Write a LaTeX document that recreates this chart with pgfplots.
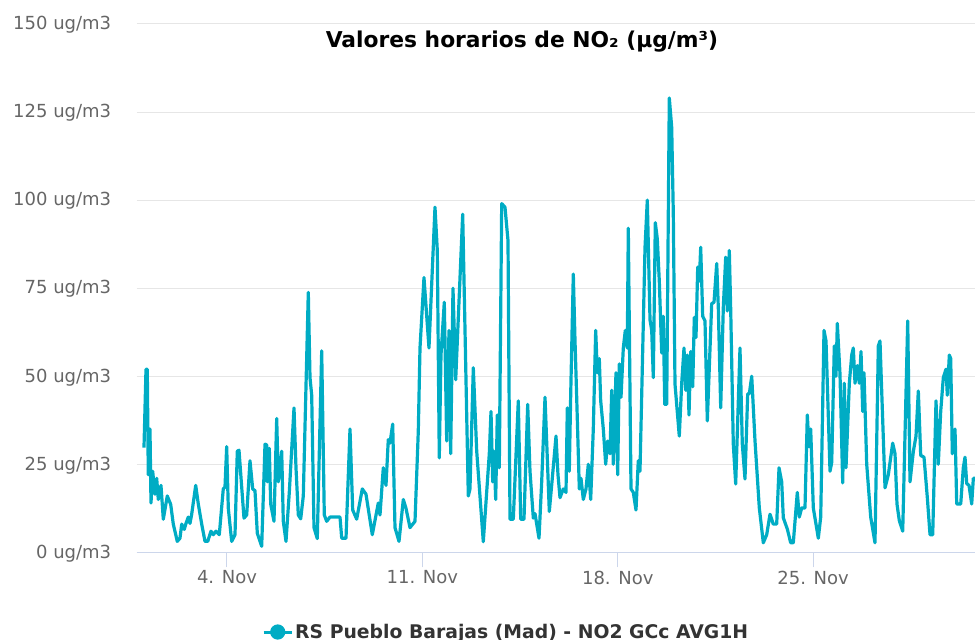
\documentclass[border=0pt]{standalone}
\usepackage{pgfplots}
\pgfplotsset{compat=1.18}
\usepackage{fontspec}
\setmainfont{DejaVu Sans}
\definecolor{lineteal}{RGB}{0,172,196}
\definecolor{gridgray}{RGB}{230,230,230}
\definecolor{axisblue}{RGB}{204,214,235}
\definecolor{labelgray}{RGB}{102,102,102}
\definecolor{legendgray}{RGB}{51,51,51}
\begin{document}
\begin{tikzpicture}
\path[use as bounding box, clip] (0pt,0pt) rectangle (975pt,640pt);
\begin{axis}[
  at={(136.7pt,87.7pt)}, anchor=south west,
  scale only axis, width=838.3pt, height=528.3pt,
  xmin=0.765, xmax=30.80, ymin=0, ymax=150,
  axis line style={draw=none},
  axis x line*=bottom, axis y line*=left,
  xtick={4,11,18,25},
  xticklabels={4. Nov,11. Nov,18. Nov,25. Nov},
  ytick={0,25,50,75,100,125,150},
  yticklabels={0 ug/m3,25 ug/m3,50 ug/m3,75 ug/m3,100 ug/m3,125 ug/m3,150 ug/m3},
  ymajorgrids, grid style={gridgray, line width=1pt},
  tick align=outside, major tick length=15pt,
  xtick style={axisblue, line width=1pt},
  ytick style={draw=none},
  ticklabel style={font=\fontsize{18}{20}\selectfont, text=labelgray},
  yticklabel style={anchor=east, xshift=-7pt, yshift=-1pt},
  xticklabel style={anchor=north, yshift=0pt},
  title={Valores horarios de NO₂ (µg/m³)},
  title style={at={(axis description cs:0.4596,0.9546)}, anchor=center, font=\fontsize{21.8}{24}\selectfont\bfseries, text=black},
  legend style={at={(axis description cs:0.1495,-0.1509)}, anchor=west, draw=none, fill=none, font=\fontsize{18.8}{20}\selectfont\bfseries, text=legendgray, inner sep=0pt},
  legend cell align=left,
  legend image code/.code={\draw[line width=3pt, lineteal] (-3pt,0pt) -- (25pt,0pt); \fill[lineteal] (11pt,0pt) circle (6pt);},
]
\draw[axisblue, line width=1pt] (axis cs:0.765,0) -- (axis cs:30.80,0);
\addplot[lineteal, line width=3.2pt, line join=round, no markers] table {
x y
1.026 29.7
1.098 52
1.144 52
1.180 22
1.241 35
1.277 14
1.338 23
1.420 16.5
1.481 21
1.539 15
1.635 19
1.718 9.4
1.861 16
1.983 13.6
2.076 8
2.219 3.1
2.316 4
2.377 8
2.470 6.5
2.531 8.2
2.613 10
2.674 8.2
2.735 10.8
2.879 19
2.972 13.7
3.094 8
3.212 3.1
3.309 3.1
3.427 6
3.509 5
3.606 6
3.724 5
3.867 18
3.928 18.5
3.989 30
4.047 12.5
4.168 3.1
4.287 5
4.369 28.7
4.430 29
4.527 18.5
4.609 9.7
4.706 10.6
4.824 26
4.921 18
5.003 17.5
5.086 5.4
5.243 1.7
5.362 30.7
5.422 30.5
5.444 20
5.516 29.5
5.566 13.7
5.684 8.8
5.781 38
5.838 20
5.960 28.7
6.017 8.8
6.114 3.1
6.232 17
6.401 41
6.472 24
6.555 10.6
6.641 9.5
6.734 16
6.913 73.8
6.974 49.6
7.035 44.6
7.117 7
7.235 3.9
7.393 57.2
7.486 10.6
7.572 8.8
7.690 10
8.049 10
8.110 4
8.264 4
8.407 35
8.504 12
8.647 9.4
8.848 18
8.980 16.5
9.206 5
9.421 14
9.482 10.6
9.600 24
9.697 19
9.779 32
9.840 31
9.937 36.4
10.019 7
10.163 3.1
10.317 15
10.413 12.5
10.557 7
10.736 8.8
10.854 34.4
10.915 58
11.058 78
11.237 58
11.452 98
11.535 85.7
11.606 26.8
11.667 56
11.786 71
11.872 31.6
11.954 63
12.015 28
12.097 75
12.194 49
12.445 96
12.646 16
12.706 18
12.825 52.4
12.947 28.7
13.183 3
13.398 28
13.459 40
13.520 20
13.566 28.7
13.627 15
13.685 39
13.756 24
13.842 99
13.960 98
14.068 88.5
14.140 9.4
14.258 9.4
14.437 43
14.523 9.4
14.641 9.4
14.774 42
14.856 23
14.975 9.7
15.035 11
15.179 4
15.275 20
15.394 44
15.548 11.6
15.644 20
15.788 33
15.859 22
15.931 15.5
16.049 18
16.146 17
16.193 41
16.264 23
16.315 45
16.408 79
16.469 60
16.529 44
16.623 18
16.683 21
16.766 15
16.863 18
16.945 25
17.031 15
17.124 35
17.210 63
17.268 51
17.339 55
17.389 43
17.483 35
17.568 25
17.640 31.6
17.722 28
17.784 46
17.841 25
17.937 51
17.998 22
18.056 53.5
18.117 44
18.199 58
18.271 63
18.342 58
18.378 92
18.475 18
18.557 17
18.654 12
18.736 26
18.797 23
18.977 86.6
19.059 100
19.156 66
19.217 63
19.274 49.6
19.346 93.6
19.417 89
19.489 77
19.575 56.6
19.632 67
19.683 42
19.754 42
19.847 129
19.933 120.7
19.991 96
20.051 47.8
20.205 33
20.292 48
20.374 58
20.435 46
20.492 56
20.553 39
20.614 57
20.686 47
20.743 66.7
20.804 61
20.865 81
20.922 77
20.972 86.6
21.044 67
21.126 65.7
21.209 37.3
21.366 70.6
21.449 71
21.546 82
21.603 69.5
21.689 41
21.782 69.5
21.868 83.8
21.925 68.5
21.997 85.7
22.047 69
22.140 30.7
22.226 19.4
22.380 58
22.463 30.7
22.559 20.8
22.656 45
22.714 45
22.800 50
22.918 31.6
23.072 12.6
23.215 2.7
23.337 5
23.455 10.8
23.573 8
23.695 8
23.778 24
23.874 20
23.932 9.8
24.075 6.6
24.197 2.7
24.290 2.7
24.433 17
24.505 10
24.591 12.6
24.709 12.6
24.792 39
24.852 30
24.913 35
25.007 12.6
25.186 4
25.272 10
25.390 63
25.462 60
25.605 23
25.666 25.5
25.759 58.6
25.820 50
25.867 65
25.963 50.6
26.060 19.7
26.118 48
26.178 24
26.297 48
26.383 56
26.440 58
26.501 48
26.583 53
26.655 48
26.716 57
26.777 40
26.823 51
26.920 25
27.063 10
27.217 2.7
27.336 58.6
27.396 60
27.576 18.3
27.694 22
27.851 31
27.934 28
28.005 13.7
28.088 9
28.210 6
28.389 65.7
28.471 20
28.590 28.6
28.686 33
28.769 45.8
28.855 27.5
28.973 27
29.092 15.5
29.188 5
29.285 5
29.403 43
29.485 25
29.571 40
29.665 49.6
29.761 52
29.808 44.6
29.880 56
29.930 55
29.987 28
30.084 35
30.145 13.7
30.288 13.7
30.381 24
30.442 27
30.503 19.5
30.585 19
30.682 13.7
30.740 21
30.800 21
};
\addlegendentry{RS Pueblo Barajas (Mad) - NO2 GCc AVG1H}
\end{axis}
\end{tikzpicture}
\end{document}
